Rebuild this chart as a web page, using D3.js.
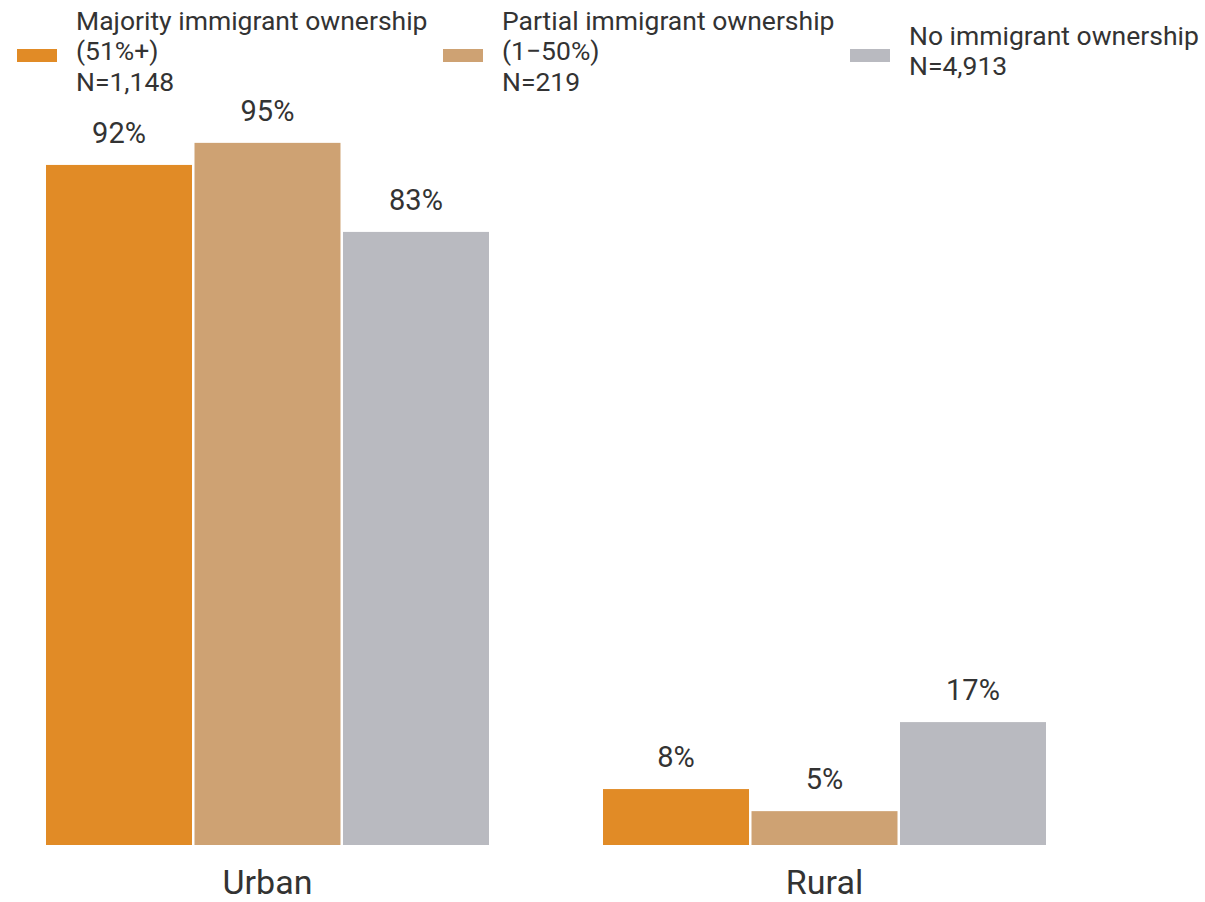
<!DOCTYPE html>
<html>
<head>
<meta charset="utf-8">
<script src="https://cdn.jsdelivr.net/npm/d3@7"></script>
<style>
  body { margin: 0; background: #fff; }
  svg { display: block; font-family: Roboto, "Noto Sans", sans-serif; }
</style>
</head>
<body>
<div id="chart"></div>
<script>
var categories = ['Urban', 'Rural'];
var seriesNames = ['majority', 'partial', 'none'];
var seriesLabels = [
  ['Majority immigrant ownership', '(51%+)', 'N=1,148'],
  ['Partial immigrant ownership', '(1\u221250%)', 'N=219'],
  ['No immigrant ownership', 'N=4,913']
];
var seriesColors = ['#E18B26', '#CEA273', '#B9BAC0'];
// share of businesses, per category, per series
var majorityValues = [0.924, 0.076];
var partialValues  = [0.954, 0.046];
var noneValues     = [0.833, 0.167];
var valueLabels = [['92%', '8%'], ['95%', '5%'], ['83%', '17%']];

window.onload = function() {
  'use strict';
  var width = 1205, height = 902;
  var BASE = 845, TOP = 109;
  var series = [majorityValues, partialValues, noneValues];

  var svg = d3.select('#chart').append('svg')
    .attr('width', width).attr('height', height);

  var x0 = d3.scaleBand().domain(categories).range([46, 1046])
    .paddingInner(0.2047).paddingOuter(0);
  var x1 = d3.scaleBand().domain(seriesNames).range([0, x0.bandwidth()])
    .paddingInner(0.0168).paddingOuter(0);
  var y = d3.scaleLinear().domain([0, 1]).range([BASE, TOP]);

  var rows = [];
  categories.forEach(function(c, ci) {
    seriesNames.forEach(function(s, si) {
      rows.push({cat: c, s: s, si: si, v: series[si][ci], label: valueLabels[si][ci]});
    });
  });

  var g = svg.append('g');
  g.selectAll('rect').data(rows).enter().append('rect')
    .attr('x', function(d) { return x0(d.cat) + x1(d.s); })
    .attr('y', function(d) { return y(d.v); })
    .attr('width', x1.bandwidth())
    .attr('height', function(d) { return BASE - y(d.v); })
    .attr('fill', function(d) { return seriesColors[d.si]; });

  // value labels
  g.selectAll('.val').data(rows).enter().append('text')
    .attr('class', 'val')
    .attr('x', function(d) { return x0(d.cat) + x1(d.s) + x1.bandwidth() / 2; })
    .attr('y', function(d) { return y(d.v) - 22; })
    .attr('text-anchor', 'middle')
    .attr('font-size', 29)
    .attr('fill', '#333')
    .text(function(d) { return d.label; });

  // category axis
  var axis = svg.append('g')
    .attr('transform', 'translate(0,' + BASE + ')')
    .call(d3.axisBottom(x0).tickSize(0).tickPadding(0));
  axis.select('.domain').remove();
  axis.selectAll('text')
    .attr('font-size', 34)
    .attr('font-family', 'Roboto, sans-serif')
    .attr('fill', '#333')
    .attr('dy', null)
    .attr('y', 49);

  // legend
  var legendX = [17, 443, 850];
  var leg = svg.append('g').selectAll('g').data(seriesLabels).enter().append('g')
    .attr('transform', function(d, i) { return 'translate(' + legendX[i] + ',0)'; });
  leg.append('rect')
    .attr('x', 0).attr('y', 49).attr('width', 40).attr('height', 13)
    .attr('fill', function(d, i) { return seriesColors[i]; });
  leg.each(function(lines) {
    var LH = 30.5;
    var first = 60 - (lines.length - 1) * LH / 2;
    d3.select(this).selectAll('text').data(lines).enter().append('text')
      .attr('x', 59)
      .attr('y', function(t, j) { return first + j * LH; })
      .attr('font-size', 26.5)
      .attr('fill', '#333')
      .text(function(t) { return t; });
  });
};
</script>
</body>
</html>
